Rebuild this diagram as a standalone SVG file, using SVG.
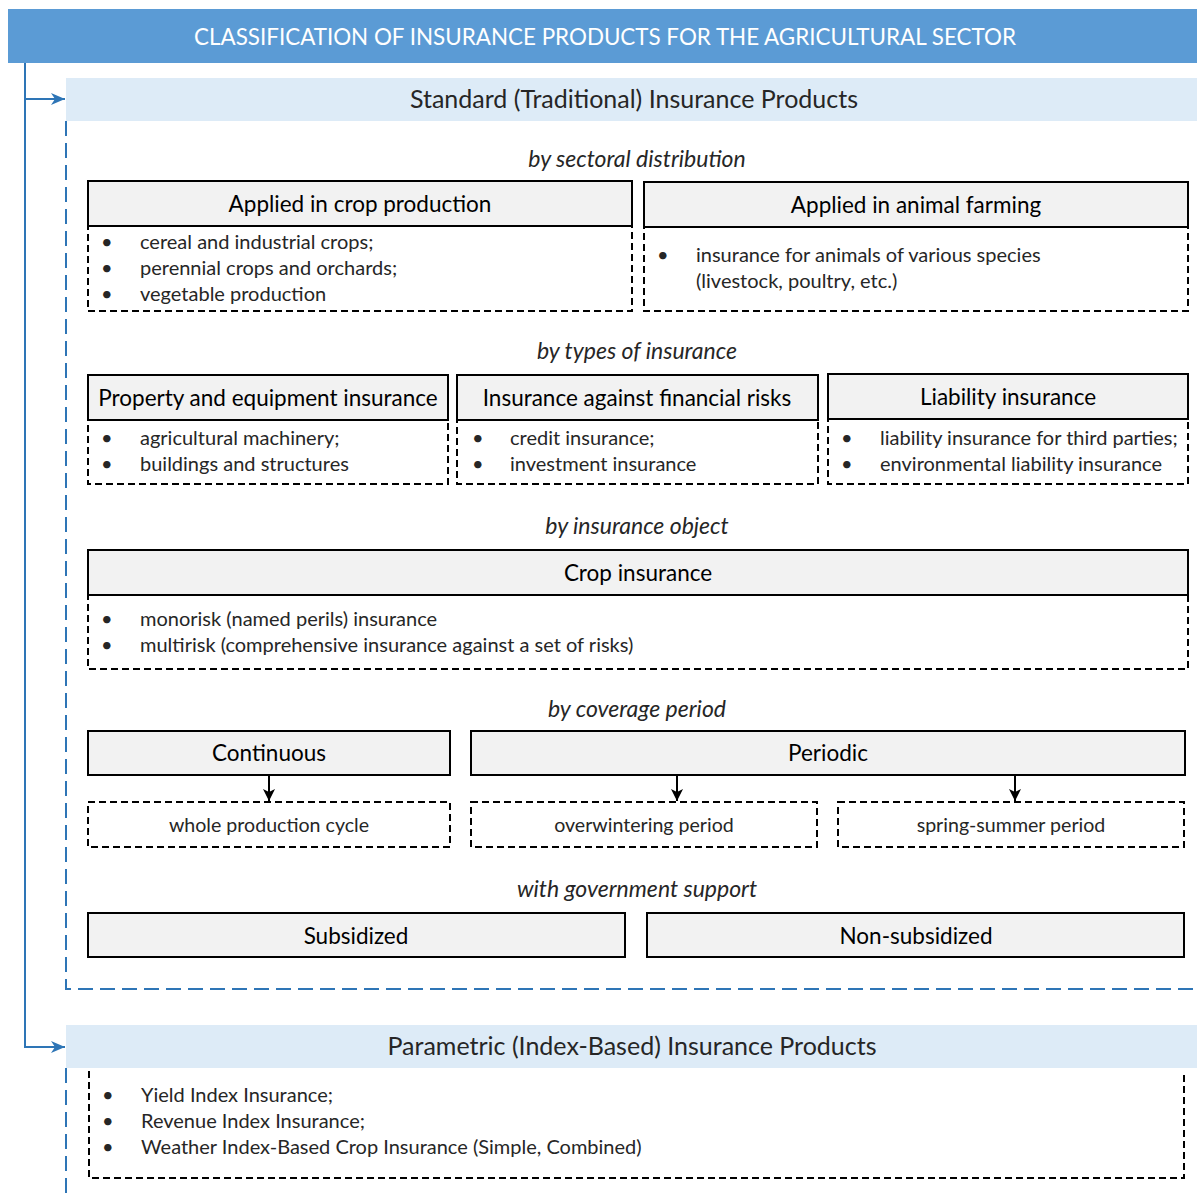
<svg xmlns="http://www.w3.org/2000/svg" width="1197" height="1200" viewBox="0 0 1197 1200">
<defs>
<marker id="ab" viewBox="0 0 14 14" refX="14" refY="7" markerWidth="14" markerHeight="14" markerUnits="userSpaceOnUse" orient="auto"><path d="M0,1 L14,7 L0,13 L4,7 Z" fill="#2E75B6"/></marker>
<marker id="ak" viewBox="0 0 12 12" refX="12" refY="6" markerWidth="12" markerHeight="12" markerUnits="userSpaceOnUse" orient="auto"><path d="M0,0 L12,6 L0,12 L3,6 Z" fill="#000"/></marker>
</defs>
<style>
text{font-family:Lato,"Open Sans","Liberation Sans",sans-serif;fill:#1a1a1a;}
.title{font-size:22.4px;fill:#fff;text-anchor:middle;}
.band{font-size:25px;text-anchor:middle;fill:#262626;}
.cat{font-size:23px;font-style:italic;text-anchor:middle;fill:#262626;}
.hd{fill:#F2F2F2;stroke:#000;stroke-width:2;}
.ht{font-size:22.5px;text-anchor:middle;fill:#000;}
.body{fill:none;stroke:#000;stroke-width:2;stroke-dasharray:7 4;}
.bt{font-size:20px;fill:#262626;}
.ct{font-size:19.6px;fill:#262626;text-anchor:middle;}
.bl{fill:none;stroke:#2E75B6;stroke-width:2;}
.bd{fill:none;stroke:#2E75B6;stroke-width:2;stroke-dasharray:15 7;}
.bx{fill:#DDEBF7;}
</style>
<g id="title"><rect x="8" y="9" width="1189" height="54" fill="#5B9BD5"/><text class="title" x="605" y="45">CLASSIFICATION OF INSURANCE PRODUCTS FOR THE AGRICULTURAL SECTOR</text></g>
<g id="connectors">
<path class="bl" d="M25,63 V1047 H65" marker-end="url(#ab)"/>
<path class="bl" d="M25,99 H65" marker-end="url(#ab)"/>
<path d="M269,776 V801" stroke="#000" stroke-width="2" marker-end="url(#ak)"/>
<path d="M677,776 V801" stroke="#000" stroke-width="2" marker-end="url(#ak)"/>
<path d="M1015,776 V801" stroke="#000" stroke-width="2" marker-end="url(#ak)"/>
</g>
<g id="standard">
<rect class="bx" x="66" y="78" width="1131" height="43"/>
<text class="band" x="634" y="108">Standard (Traditional) Insurance Products</text>
<path class="bd" d="M66,121 V989 H1197"/>
</g>
<text class="cat" x="637" y="167">by sectoral distribution</text>
<g id="crop-production">
<rect class="body" x="88" y="226" width="544" height="85"/>
<rect class="hd" x="88" y="181" width="544" height="45"/>
<text class="ht" x="360" y="212">Applied in crop production</text>
<text class="bt" x="101" y="249">•</text><text class="bt" x="140" y="249">cereal and industrial crops;</text>
<text class="bt" x="101" y="275">•</text><text class="bt" x="140" y="275">perennial crops and orchards;</text>
<text class="bt" x="101" y="301">•</text><text class="bt" x="140" y="301">vegetable production</text>
</g>
<g id="animal-farming">
<rect class="body" x="644" y="227" width="544" height="84"/>
<rect class="hd" x="644" y="182" width="544" height="45"/>
<text class="ht" x="916" y="213">Applied in animal farming</text>
<text class="bt" x="657" y="262">•</text><text class="bt" x="696" y="262">insurance for animals of various species</text>
<text class="bt" x="696" y="288">(livestock, poultry, etc.)</text>
</g>
<text class="cat" x="637" y="359">by types of insurance</text>
<g id="property">
<rect class="body" x="88" y="420" width="360" height="64"/>
<rect class="hd" x="88" y="375" width="360" height="45"/>
<text class="ht" x="268" y="406">Property and equipment insurance</text>
<text class="bt" x="101" y="445">•</text><text class="bt" x="140" y="445">agricultural machinery;</text>
<text class="bt" x="101" y="471">•</text><text class="bt" x="140" y="471">buildings and structures</text>
</g>
<g id="financial">
<rect class="body" x="457" y="420" width="361" height="64"/>
<rect class="hd" x="457" y="375" width="361" height="45"/>
<text class="ht" x="637" y="406">Insurance against financial risks</text>
<text class="bt" x="472" y="445">•</text><text class="bt" x="510" y="445">credit insurance;</text>
<text class="bt" x="472" y="471">•</text><text class="bt" x="510" y="471">investment insurance</text>
</g>
<g id="liability">
<rect class="body" x="828" y="419" width="360" height="65"/>
<rect class="hd" x="828" y="374" width="360" height="45"/>
<text class="ht" x="1008" y="405">Liability insurance</text>
<text class="bt" x="841" y="445">•</text><text class="bt" x="880" y="445">liability insurance for third parties;</text>
<text class="bt" x="841" y="471">•</text><text class="bt" x="880" y="471">environmental liability insurance</text>
</g>
<text class="cat" x="637" y="534">by insurance object</text>
<g id="crop-insurance">
<rect class="body" x="88" y="595" width="1100" height="74"/>
<rect class="hd" x="88" y="550" width="1100" height="45"/>
<text class="ht" x="638" y="581">Crop insurance</text>
<text class="bt" x="101" y="626">•</text><text class="bt" x="140" y="626">monorisk (named perils) insurance</text>
<text class="bt" x="101" y="652">•</text><text class="bt" x="140" y="652">multirisk (comprehensive insurance against a set of risks)</text>
</g>
<text class="cat" x="637" y="717">by coverage period</text>
<g id="continuous">
<rect class="hd" x="88" y="731" width="362" height="44"/>
<text class="ht" x="269" y="761">Continuous</text>
</g>
<g id="whole-cycle">
<rect class="body" x="88" y="802" width="362" height="45"/>
<text class="ct" x="269" y="832">whole production cycle</text>
</g>
<g id="periodic">
<rect class="hd" x="471" y="731" width="714" height="44"/>
<text class="ht" x="828" y="761">Periodic</text>
</g>
<g id="overwintering">
<rect class="body" x="471" y="802" width="346" height="45"/>
<text class="ct" x="644" y="832">overwintering period</text>
</g>
<g id="spring-summer">
<rect class="body" x="838" y="802" width="346" height="45"/>
<text class="ct" x="1011" y="832">spring-summer period</text>
</g>
<text class="cat" x="637" y="897">with government support</text>
<g id="subsidized">
<rect class="hd" x="88" y="913" width="537" height="44"/>
<text class="ht" x="356" y="944">Subsidized</text>
</g>
<g id="non-subsidized">
<rect class="hd" x="647" y="913" width="537" height="44"/>
<text class="ht" x="916" y="944">Non-subsidized</text>
</g>
<g id="parametric">
<rect class="bx" x="66" y="1025" width="1131" height="43"/>
<text class="band" x="632" y="1055">Parametric (Index-Based) Insurance Products</text>
<path class="bd" d="M66,1068 V1200"/>
<path class="body" d="M89,1071 V1178 H1184 V1071"/>
<text class="bt" x="102" y="1102">•</text><text class="bt" x="141" y="1102">Yield Index Insurance;</text>
<text class="bt" x="102" y="1128">•</text><text class="bt" x="141" y="1128">Revenue Index Insurance;</text>
<text class="bt" x="102" y="1154">•</text><text class="bt" x="141" y="1154">Weather Index-Based Crop Insurance (Simple, Combined)</text>
</g>
</svg>
